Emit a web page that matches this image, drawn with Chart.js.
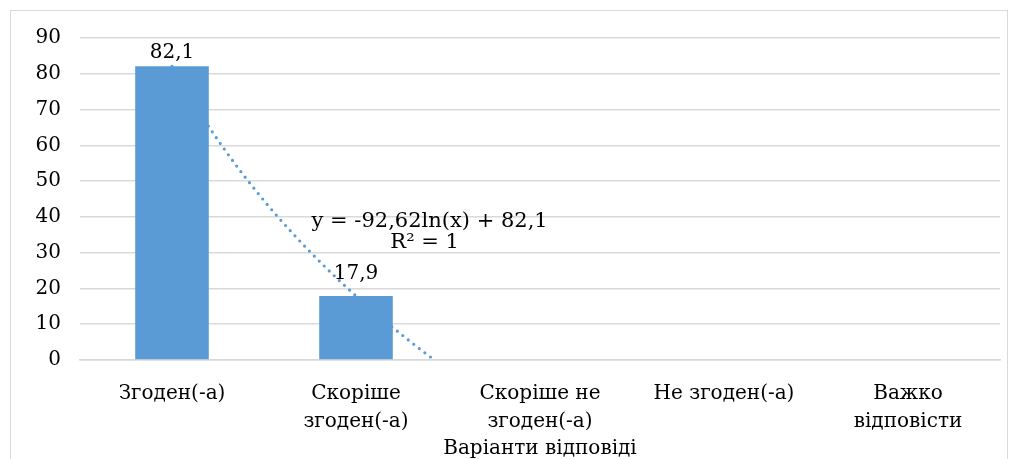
<!DOCTYPE html>
<html>
<head>
<meta charset="utf-8">
<script src="https://cdn.jsdelivr.net/npm/chart.js@4.4.1/dist/chart.umd.min.js"></script>
<style>
  html, body { margin: 0; padding: 0; background: #fff; }
  #frame { position: absolute; left: 10px; top: 10px; width: 996px; height: 470px; border: 1px solid #d9d9d9; }
  #wrap { position: absolute; left: 0; top: 0; width: 1009px; height: 459px; }
</style>
</head>
<body>
<div id="frame"></div>
<div id="wrap"><canvas id="myChart"></canvas></div>
<script>
let labels = [
    'Згоден(-а)',
    ['Скоріше', 'згоден(-а)'],
    ['Скоріше не', 'згоден(-а)'],
    'Не згоден(-а)',
    ['Важко', 'відповісти']
];
let values = [82.1, 17.9, null, null, null];
let yTicks = [0, 10, 20, 30, 40, 50, 60, 70, 80, 90];
let axisTitle = 'Варіанти відповіді';

let fontFamily = "'DejaVu Serif', serif";
let fontSize = 20;
let textColor = '#000';
let barColor = '#5B9BD5';
// gap between bar top and its value label (px), the second one sits higher
let labelGaps = [8, 17, 8, 8, 8];

function fmt(v) {
    return String(v).replace('.', ',');
}

// logarithmic trendline y = a*ln(x) + b, fitted to the points that exist
function logFit(vals) {
    let pts = [];
    vals.forEach((v, i) => { if (v !== null) pts.push([Math.log(i + 1), v]); });
    let n = pts.length;
    let sx = 0, sy = 0, sxx = 0, sxy = 0;
    pts.forEach(p => { sx += p[0]; sy += p[1]; sxx += p[0] * p[0]; sxy += p[0] * p[1]; });
    let a = (n * sxy - sx * sy) / (n * sxx - sx * sx);
    let b = (sy - a * sx) / n;
    return { a: a, b: b, n: n };
}
let fit = logFit(values);

let trendPlugin = {
    id: 'trend',
    beforeDatasetsDraw(chart) {
        let ctx = chart.ctx;
        let xs = chart.scales.x, ys = chart.scales.y, area = chart.chartArea;
        ctx.save();
        ctx.beginPath();
        ctx.rect(area.left, area.top, area.right - area.left, area.bottom - area.top + 2);
        ctx.clip();
        ctx.strokeStyle = barColor;
        ctx.lineWidth = 3.2;
        ctx.lineCap = 'round';
        ctx.setLineDash([0, 7]);
        ctx.beginPath();
        let started = false;
        for (let x = 1; x <= values.length; x += 0.01) {
            let y = fit.a * Math.log(x) + fit.b;
            let px = xs.getPixelForValue(x - 1);
            let py = ys.getPixelForValue(y);
            if (!started) { ctx.moveTo(px, py); started = true; } else ctx.lineTo(px, py);
            if (y < 0) break;
        }
        ctx.stroke();
        ctx.restore();
    },
    afterDatasetsDraw(chart) {
        let ctx = chart.ctx;
        let xs = chart.scales.x, ys = chart.scales.y;
        ctx.save();
        ctx.fillStyle = textColor;
        ctx.font = fontSize + 'px ' + fontFamily;
        ctx.textAlign = 'center';
        ctx.textBaseline = 'alphabetic';
        let meta = chart.getDatasetMeta(0);
        meta.data.forEach((bar, i) => {
            if (values[i] === null) return;
            ctx.fillText(fmt(values[i]), bar.x, bar.y - labelGaps[i]);
        });
        // equation label
        let eq = 'y = ' + fmt(Math.round(fit.a * 100) / 100) + 'ln(x) + ' + fmt(Math.round(fit.b * 100) / 100);
        let lx = xs.getPixelForValue(1.4);
        ctx.textBaseline = 'middle';
        ctx.font = (fontSize + 1) + 'px ' + fontFamily;
        ctx.fillText(eq, lx, ys.getPixelForValue(38.6));
        ctx.fillText('R² = 1', lx - 5, ys.getPixelForValue(32.7));
        ctx.restore();
    }
};

let myChart = document.getElementById('myChart').getContext('2d');
let chart = new Chart(myChart, {
    type: 'bar',
    data: {
        labels: labels,
        datasets: [{
            data: values,
            backgroundColor: barColor,
            categoryPercentage: 1,
            barPercentage: 0.4
        }]
    },
    options: {
        responsive: true,
        maintainAspectRatio: false,
        animation: false,
        layout: { padding: { top: 38, right: 9, left: 0, bottom: 0 } },
        plugins: {
            legend: { display: false },
            tooltip: { enabled: false }
        },
        scales: {
            x: {
                grid: { display: false, drawTicks: false },
                border: { display: true, color: '#d9d9d9', width: 1.5 },
                ticks: {
                    color: textColor,
                    font: { family: fontFamily, size: fontSize, lineHeight: 1.4 },
                    padding: 20,
                    maxRotation: 0,
                    autoSkip: false
                },
                title: {
                    display: true,
                    text: axisTitle,
                    color: textColor,
                    font: { family: fontFamily, size: fontSize },
                    padding: { top: 2, bottom: -2 }
                },
                afterFit(scale) { scale.height = 99; }
            },
            y: {
                min: 0,
                max: 90,
                afterBuildTicks(scale) { scale.ticks = yTicks.map(v => ({ value: v })); },
                grid: { color: '#d9d9d9', drawTicks: false, lineWidth: 1.5 },
                border: { display: false },
                ticks: {
                    color: textColor,
                    font: { family: fontFamily, size: fontSize },
                    padding: 19
                },
                afterFit(scale) { scale.width = 80; }
            }
        }
    },
    plugins: [trendPlugin]
});
</script>
</body>
</html>
